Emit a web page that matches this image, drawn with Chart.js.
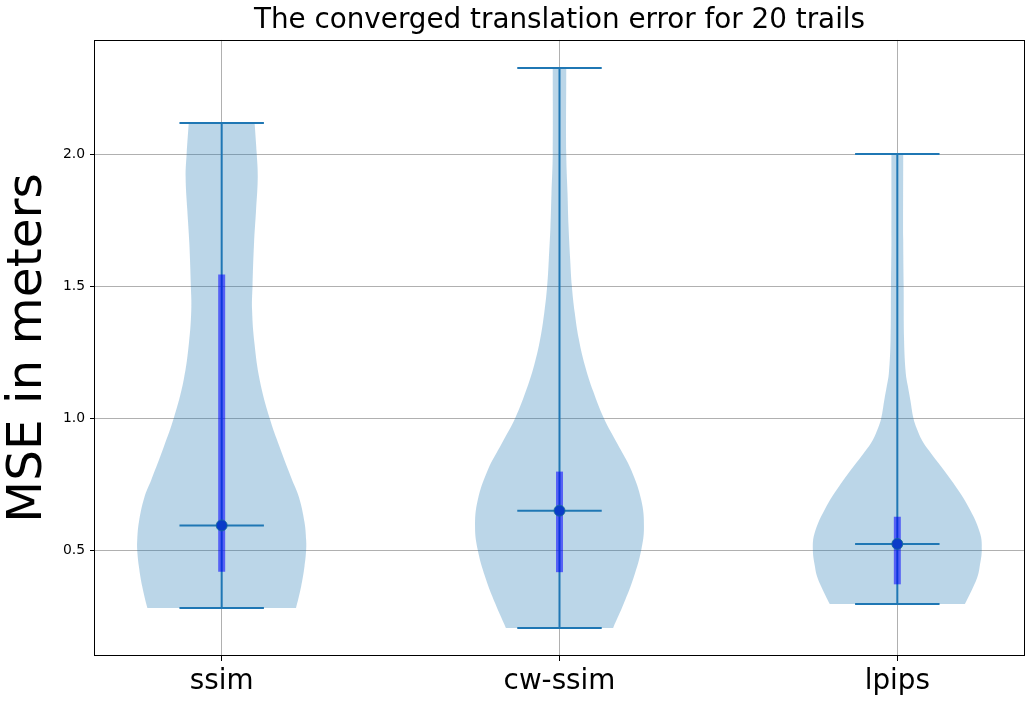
<!DOCTYPE html>
<html><head><meta charset="utf-8">
<script src="https://cdn.jsdelivr.net/npm/chart.js@4.4.1/dist/chart.umd.min.js"></script>
<style>html,body{margin:0;padding:0;background:#fff}canvas{display:block}</style>
</head><body>
<canvas id="c" width="1034" height="704"></canvas>
<script>
const categories = ['ssim', 'cw-ssim', 'lpips'];
const minValues = [0.280, 0.205, 0.295];
const maxValues = [2.117, 2.326, 2.000];
const medianValues = [0.593, 0.649, 0.523];
const q1Values = [0.418, 0.416, 0.370];
const q3Values = [1.544, 0.797, 0.626];
const yTickValues = [0.5, 1.0, 1.5, 2.0];

// Violin outlines: levels (bottom -> top) and relative density
const ssimLevels   = [0.280, 0.361, 0.437, 0.500, 0.538, 0.606, 0.700, 0.765, 0.891, 1.000, 1.144, 1.283, 1.409, 1.500, 1.662, 1.788, 1.914, 2.000, 2.117];
const ssimDensity  = [0.88, 0.94, 0.98, 1.00, 1.00, 0.98, 0.915, 0.834, 0.685, 0.567, 0.45, 0.388, 0.36, 0.365, 0.383, 0.407, 0.427, 0.415, 0.39];
const cwssimLevels  = [0.205, 0.298, 0.399, 0.500, 0.588, 0.689, 0.803, 0.904, 1.000, 1.100, 1.200, 1.300, 1.400, 1.500, 1.598, 1.725, 1.851, 2.000, 2.326];
const cwssimDensity = [0.635, 0.762, 0.881, 0.968, 1.00, 0.968, 0.849, 0.682, 0.524, 0.40, 0.30, 0.228, 0.18, 0.146, 0.127, 0.107, 0.095, 0.08, 0.08];
const lpipsLevels  = [0.295, 0.361, 0.400, 0.437, 0.500, 0.563, 0.652, 0.753, 0.879, 0.917, 0.960, 1.000, 1.068, 1.120, 1.170, 1.295, 1.500, 1.674, 2.000];
const lpipsDensity = [0.80, 0.90, 0.95, 0.975, 1.00, 0.98, 0.862, 0.665, 0.37, 0.29, 0.23, 0.19, 0.154, 0.125, 0.10, 0.08, 0.075, 0.07, 0.07];

const violinLevels = [ssimLevels, cwssimLevels, lpipsLevels];
const violinDensity = [ssimDensity, cwssimDensity, lpipsDensity];

const HALF = 0.25, CAP = 0.125;
const C0 = '#1f77b4';

function outline(pos, levels, dens) {
  const pts = [];
  const n = levels.length;
  for (let i = 0; i < n; i++) {
    const p = {x: pos - dens[i] * HALF, y: levels[i]};
    pts.push(p);
    if (i === 0 || i === n - 1) pts.push({...p});
  }
  for (let i = n - 1; i >= 0; i--) {
    const p = {x: pos + dens[i] * HALF, y: levels[i]};
    pts.push(p);
    if (i === 0 || i === n - 1) pts.push({...p});
  }
  return pts;
}

const datasets = [];
categories.forEach((c, i) => {
  const pos = i + 1;
  datasets.push({
    data: outline(pos, violinLevels[i], violinDensity[i]),
    showLine: true, fill: 'shape', tension: 0.4,
    backgroundColor: 'rgba(31,119,180,0.3)', borderColor: 'rgba(0,0,0,0)', borderWidth: 0,
    pointRadius: 0, order: 10
  });
  datasets.push({
    data: [{x: pos, y: minValues[i]}, {x: pos, y: maxValues[i]}],
    showLine: true, borderColor: C0, borderWidth: 2, pointRadius: 0, fill: false, order: 8
  });
  [minValues[i], maxValues[i], medianValues[i]].forEach(v => {
    datasets.push({
      data: [{x: pos - CAP, y: v}, {x: pos + CAP, y: v}],
      showLine: true, borderColor: C0, borderWidth: 2, pointRadius: 0, fill: false, order: 7
    });
  });
  datasets.push({
    data: [{x: pos, y: q1Values[i]}, {x: pos, y: q3Values[i]}],
    showLine: true, borderColor: 'rgba(0,0,255,0.55)', borderWidth: 7, borderCapStyle: 'butt',
    pointRadius: 0, fill: false, order: 5
  });
  datasets.push({
    data: [{x: pos, y: medianValues[i]}],
    showLine: false, pointRadius: 5.5, pointBackgroundColor: '#0a3cc8',
    pointBorderColor: 'rgba(20,110,150,0.8)', pointBorderWidth: 1, order: 1
  });
});

const framePlugin = {
  id: 'frame',
  afterLayout(chart) {
    // centre the title over the plot area, as in the reference
    if (chart.titleBlock) {
      chart.titleBlock.left = chart.chartArea.left;
      chart.titleBlock.right = chart.chartArea.right;
    }
  },
  afterDatasetsDraw(chart) {
    const {ctx, chartArea: a} = chart;
    ctx.save();
    ctx.strokeStyle = '#000';
    ctx.lineWidth = 1;
    ctx.strokeRect(Math.round(a.left) - 0.5, Math.round(a.top) + 0.5,
      Math.round(a.right) - Math.round(a.left) + 1, Math.round(a.bottom) - Math.round(a.top) - 1);
    ctx.restore();
  }
};

Chart.defaults.font.family = "'DejaVu Sans', sans-serif";
Chart.defaults.color = '#000';

new Chart(document.getElementById('c'), {
  type: 'scatter',
  data: {datasets},
  options: {
    responsive: false, animation: false,
    layout: {padding: {left: 0, right: 10, top: 0, bottom: 0}},
    plugins: {
      legend: {display: false}, tooltip: {enabled: false},
      title: {
        display: true, text: 'The converged translation error for 20 trails',
        font: {size: 27.8, weight: 'normal'}, color: '#000',
        padding: {top: 4, bottom: 2.6}
      }
    },
    scales: {
      x: {
        type: 'linear', min: 0.625, max: 3.375,
        afterBuildTicks: s => { s.ticks = categories.map((c, i) => ({value: i + 1})); },
        afterFit: s => { s.height = 48; },
        ticks: {
          callback: v => categories[Math.round(v) - 1],
          font: {size: 27.8}, color: '#000', padding: 4, maxRotation: 0, autoSkip: false
        },
        grid: {color: '#b0b0b0', lineWidth: 1, tickColor: '#000', tickLength: 5},
        border: {display: false}
      },
      y: {
        type: 'linear', min: 0.0985, max: 2.432,
        afterBuildTicks: s => { s.ticks = yTickValues.map(v => ({value: v})); },
        afterFit: s => { s.width = 95; },
        ticks: {callback: v => v.toFixed(1), font: {size: 13.9}, color: '#000', padding: 5},
        grid: {color: '#b0b0b0', lineWidth: 1, tickColor: '#000', tickLength: 5},
        border: {display: false},
        title: {
          display: true, text: 'MSE in meters', color: '#000',
          font: {size: 48.5, lineHeight: 1}, padding: {top: 4, bottom: 0}
        }
      }
    }
  },
  plugins: [framePlugin]
});
</script>
</body></html>
